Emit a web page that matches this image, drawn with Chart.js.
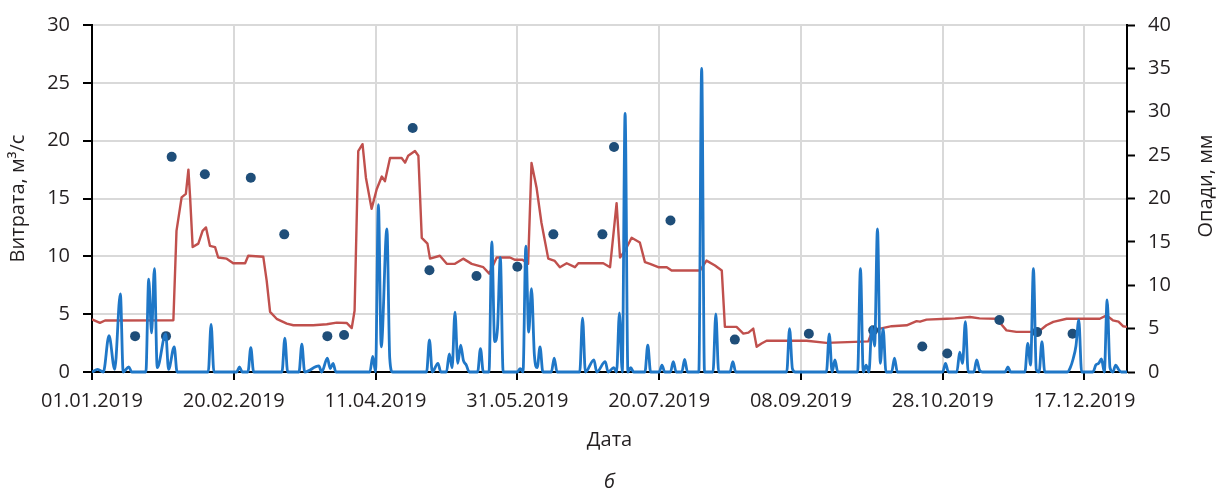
<!DOCTYPE html>
<html>
<head>
<meta charset="utf-8">
<script src="https://cdn.jsdelivr.net/npm/chart.js@4.4.1/dist/chart.umd.min.js"></script>
<style>
  html, body { margin: 0; padding: 0; background: #fff; }
  #wrap { width: 1227px; height: 498px; }
</style>
</head>
<body>
<div id="wrap"><canvas id="c" width="1227" height="498"></canvas></div>
<script>
// ---- Data (day of year 2019, 0 = 01.01.2019) ----
const startDate = new Date(2019, 0, 1);
const xTickDays = [0, 50, 100, 150, 200, 250, 300, 350];

// Discharge (Витрата, m3/s) – red line, left axis
const flowDays = [0, 2.8, 4.6, 28.7, 29.8, 31.6, 33.1, 34, 34.6, 35.5, 37.5, 39, 40.2, 41.6, 43.4, 44.5, 47.5, 49.8, 54, 55.1, 60.4, 61.6, 62.8, 65.1, 68.7, 71, 78, 82.8, 86.3, 89.8, 91.6, 92.6, 93.9, 95.4, 96.6, 98.6, 100.4, 102.2, 103.3, 105.1, 109.2, 110.4, 111.5, 113.9, 115.1, 116.3, 118.3, 119.2, 122.7, 125.1, 128, 130.9, 133.9, 138, 140.1, 142.7, 147.4, 149.2, 151.8, 153.8, 155, 156.8, 158.5, 160.9, 163.2, 165, 167.4, 170.3, 171.5, 180.3, 182.7, 185, 186.2, 188, 190.3, 193.2, 195, 196.8, 199.7, 202.7, 204.4, 214.4, 216.7, 219.7, 222.1, 223.2, 227.3, 229.7, 231.5, 233.2, 234.4, 236.1, 237.9, 252, 259, 273.8, 275, 277.9, 282, 287.3, 290.8, 292, 294.3, 301.4, 304.3, 309.6, 313, 319, 322.5, 326, 333.7, 336.6, 339, 343.7, 355.4, 357.8, 360, 362, 363.6, 365];
const flowValues = [4.55, 4.25, 4.45, 4.47, 12.2, 15.1, 15.4, 17.5, 15.1, 10.8, 11.1, 12.2, 12.5, 10.9, 10.8, 9.9, 9.8, 9.4, 9.4, 10.05, 9.97, 7.9, 5.2, 4.6, 4.18, 4.04, 4.04, 4.13, 4.27, 4.24, 3.8, 5.3, 19.1, 19.7, 16.8, 14.1, 15.8, 16.9, 16.5, 18.5, 18.5, 18.1, 18.7, 19.1, 18.7, 11.6, 11.1, 9.8, 10.05, 9.35, 9.35, 9.8, 9.35, 9.06, 8.5, 9.9, 9.9, 9.7, 9.7, 9.35, 18.08, 15.9, 12.9, 9.8, 9.6, 9.06, 9.4, 9.06, 9.4, 9.4, 9.06, 14.6, 9.9, 10.5, 11.6, 11.2, 9.5, 9.35, 9.06, 9.06, 8.77, 8.77, 9.63, 9.2, 8.77, 3.9, 3.9, 3.32, 3.4, 3.75, 2.18, 2.46, 2.7, 2.7, 2.52, 2.65, 3.47, 3.75, 3.96, 4.04, 4.4, 4.35, 4.53, 4.6, 4.64, 4.76, 4.64, 4.6, 3.6, 3.47, 3.47, 4.04, 4.33, 4.6, 4.6, 4.9, 4.47, 4.35, 3.96, 3.9];

// Measured discharge – dark dots, left axis
const measDays = [15.2, 26.1, 28.1, 39.8, 56, 67.8, 83, 88.9, 113.1, 119, 135.6, 150, 162.7, 180, 184.1, 204, 226.7, 252.8, 275.5, 292.8, 301.6, 320, 333.3, 345.8];
const measValues = [3.1, 3.1, 18.6, 17.1, 16.8, 11.9, 3.1, 3.2, 21.1, 8.8, 8.3, 9.1, 11.9, 11.9, 19.45, 13.1, 2.8, 3.3, 3.6, 2.2, 1.6, 4.5, 3.45, 3.3];

// Precipitation (Опади, mm) – blue line, right axis
const rainDays = [0, 2, 4, 6, 8, 10, 11, 13, 14, 19, 20, 21, 22, 23, 26, 27, 29, 30, 41, 42, 43, 51, 52, 53, 55, 56, 57, 67, 68, 69, 73, 74, 75, 80, 81, 83, 84, 85, 86, 98, 99, 100, 101, 102, 104, 105, 106, 118, 119, 120, 122, 123, 125, 126, 127, 128, 129, 130, 131, 132, 133, 136, 137, 138, 140, 141, 142, 143, 144, 145, 150, 151, 152, 153, 154, 155, 156, 157, 158, 159, 162, 163, 164, 172, 173, 174, 177, 178, 181, 182, 184, 185, 186, 187, 188, 189, 190, 191, 195, 196, 197, 200, 201, 202, 204, 205, 206, 208, 209, 210, 214, 215, 216, 219, 220, 221, 225, 226, 227, 245, 246, 247, 248, 259, 260, 261, 262, 263, 270, 271, 272, 273, 274, 275, 276, 277, 278, 279, 280, 282, 283, 284, 300, 301, 302, 305, 306, 307, 308, 309, 311, 312, 313, 314, 322, 323, 324, 329, 330, 331, 332, 333, 334, 335, 336, 344, 345, 346, 347, 348, 349, 353, 354, 355, 356, 357, 358, 359, 360, 361, 362, 363, 365];
const rainValues = [0, 0.3, 0, 4.2, 0.3, 9.0, 0, 0.6, 0, 0, 10.7, 4.5, 11.9, 0.5, 4.4, 0.3, 2.9, 0, 0, 5.5, 0, 0, 0.6, 0, 0, 2.8, 0, 0, 3.9, 0, 0, 3.2, 0, 0.7, 0, 1.6, 0.4, 1.0, 0, 0, 1.8, 0, 19.3, 2.9, 16.5, 1.6, 0, 0, 3.7, 0, 1.0, 0, 0, 2.1, 0.5, 6.9, 1.0, 3.1, 1.3, 0.8, 0, 0, 2.7, 0, 0, 15.0, 3.5, 5.0, 13.2, 0, 0, 0.4, 0, 14.5, 4.6, 9.6, 2.0, 0.5, 2.9, 0, 0, 1.6, 0, 0, 6.2, 0, 1.4, 0, 1.2, 0, 0.5, 0, 6.8, 0, 29.8, 0, 0.5, 0, 0, 3.1, 0, 0, 0.8, 0, 0, 1.2, 0, 0, 1.45, 0, 0, 35.0, 0, 0, 6.7, 0, 0, 1.2, 0, 0, 5.0, 0.4, 0, 0, 4.4, 0, 1.4, 0, 0, 11.9, 0, 0.8, 0, 5.2, 3.0, 16.5, 1.0, 5.0, 0, 0, 1.6, 0, 0, 1.0, 0, 0, 2.3, 1.0, 5.8, 0, 0, 1.4, 0.2, 0, 0, 0.6, 0, 0, 3.3, 0.8, 11.9, 0.3, 0, 3.5, 0, 0, 0.5, 1.5, 3.0, 6.0, 0, 0, 0.8, 1.0, 1.5, 0, 8.3, 0.5, 0, 0.8, 0.3, 0, 0];

const leftTicks = [0, 5, 10, 15, 20, 25, 30];
const rightTicks = [0, 5, 10, 15, 20, 25, 30, 35, 40];

// ---- helpers ----
const pts = (xs, ys) => xs.map((x, i) => ({ x: x, y: ys[i] }));
function fmtDay(d) {
  const dt = new Date(startDate.getTime());
  dt.setDate(dt.getDate() + d);
  const dd = String(dt.getDate()).padStart(2, '0');
  const mm = String(dt.getMonth() + 1).padStart(2, '0');
  return dd + '.' + mm + '.' + dt.getFullYear();
}

const FONT = "'Open Sans', 'Noto Sans', sans-serif";
const TXT = '#231f20';
Chart.defaults.font.family = FONT;
Chart.defaults.font.size = 20;
Chart.defaults.color = TXT;

const extraText = {
  id: 'extraText',
  afterDraw(chart) {
    const ctx = chart.ctx;
    const ca = chart.chartArea;
    ctx.save();
    ctx.fillStyle = TXT;
    ctx.font = '20px ' + FONT;
    ctx.textAlign = 'center';
    ctx.textBaseline = 'middle';
    ctx.translate(1206, 186);
    ctx.rotate(-Math.PI / 2);
    ctx.fillText('Опади, мм', 0, 0);
    ctx.restore();
    ctx.save();
    ctx.fillStyle = TXT;
    ctx.font = 'italic 20px ' + FONT;
    ctx.textAlign = 'center';
    ctx.textBaseline = 'middle';
    ctx.fillText('б', (ca.left + ca.right) / 2, 482);
    ctx.restore();
  }
};

new Chart(document.getElementById('c'), {
  type: 'line',
  data: {
    datasets: [
      {
        label: 'Опади',
        data: pts(rainDays, rainValues),
        yAxisID: 'y2',
        borderColor: '#1f77c7',
        borderWidth: 2.8,
        pointRadius: 0,
        cubicInterpolationMode: 'monotone',
        fill: false,
        order: 0,
        clip: { left: 0, top: 0, right: 0, bottom: 3 }
      },
      {
        label: 'Виміряна витрата',
        data: pts(measDays, measValues),
        yAxisID: 'y',
        showLine: false,
        pointRadius: 5,
        pointHoverRadius: 5,
        pointBorderWidth: 0,
        pointBackgroundColor: '#1f4e79',
        pointBorderColor: '#1f4e79',
        order: 1
      },
      {
        label: 'Витрата',
        data: pts(flowDays, flowValues),
        yAxisID: 'y',
        borderColor: '#c0504d',
        borderWidth: 2.4,
        pointRadius: 0,
        tension: 0,
        borderJoinStyle: 'round',
        fill: false,
        order: 2
      }
    ]
  },
  options: {
    responsive: false,
    animation: false,
    events: [],
    layout: { padding: { left: 0, right: 0, top: 23, bottom: 0 } },
    plugins: {
      legend: { display: false },
      tooltip: { enabled: false },
      title: { display: false }
    },
    scales: {
      x: {
        type: 'linear',
        min: 0,
        max: 365,
        afterBuildTicks: (s) => { s.ticks = xTickDays.map(v => ({ value: v })); },
        afterFit: (s) => { s.height = 126; },
        ticks: {
          callback: (v) => fmtDay(v),
          maxRotation: 0,
          autoSkip: false,
          padding: 9,
          color: TXT,
          font: { size: 20 }
        },
        grid: {
          color: '#d9d9d9',
          lineWidth: 2,
          drawTicks: true,
          tickLength: 8,
          tickColor: '#000',
          tickWidth: 2
        },
        border: { display: true, color: '#000', width: 2 },
        title: {
          display: true,
          text: 'Дата',
          color: TXT,
          font: { size: 20 },
          padding: { top: 0, bottom: 46 }
        }
      },
      y: {
        position: 'left',
        min: 0,
        max: 30,
        afterBuildTicks: (s) => { s.ticks = leftTicks.map(v => ({ value: v })); },
        afterFit: (s) => { s.width = 92; },
        ticks: { padding: 13, color: TXT, font: { size: 20 } },
        grid: {
          color: '#d9d9d9',
          lineWidth: 2,
          drawTicks: true,
          tickLength: 9,
          tickColor: '#000',
          tickWidth: 2
        },
        border: { display: true, color: '#000', width: 2 },
        title: {
          display: true,
          text: 'Витрата, м³/с',
          color: TXT,
          font: { size: 20 },
          padding: { top: 6, bottom: 0 }
        }
      },
      y2: {
        position: 'right',
        min: 0,
        max: 40,
        afterBuildTicks: (s) => { s.ticks = rightTicks.map(v => ({ value: v })); },
        afterFit: (s) => { s.width = 100; },
        ticks: { padding: 13, color: TXT, font: { size: 20 } },
        grid: {
          drawOnChartArea: false,
          drawTicks: true,
          tickLength: 8,
          tickColor: '#000',
          tickWidth: 2
        },
        border: { display: true, color: '#000', width: 2 }
      }
    }
  },
  plugins: [extraText]
});
</script>
</body>
</html>
